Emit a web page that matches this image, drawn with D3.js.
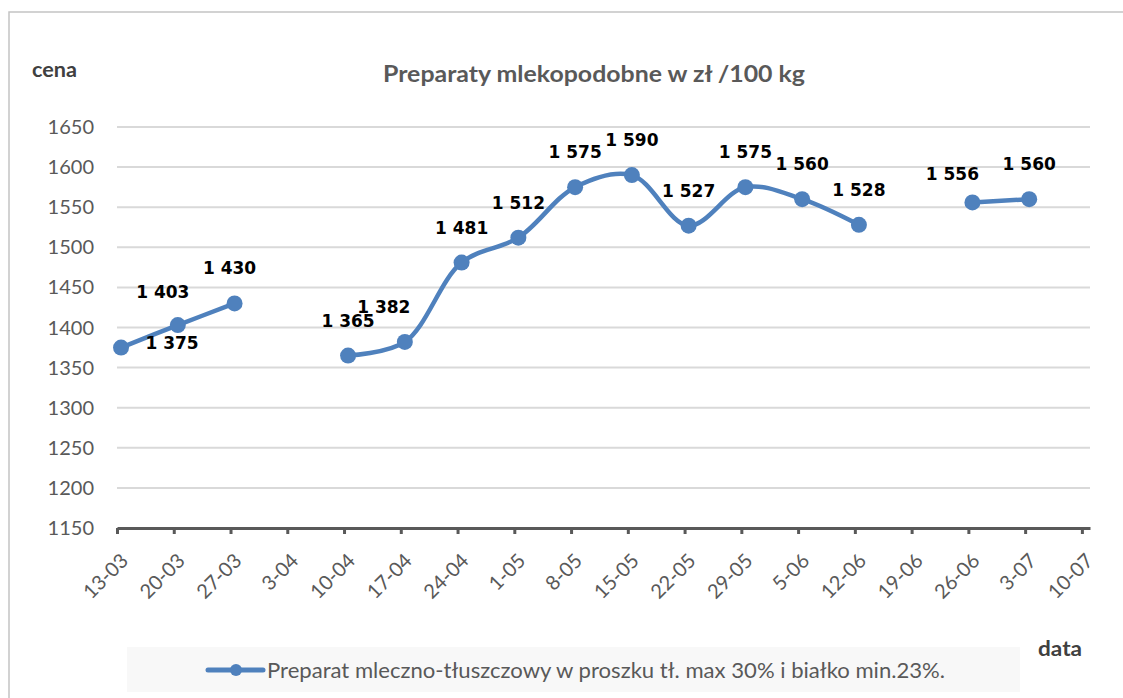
<!DOCTYPE html>
<html>
<head>
<meta charset="utf-8">
<script src="https://cdn.jsdelivr.net/npm/d3@7"></script>
<style>
  body { margin: 0; background: #fff; }
  text { font-family: Lato, "Open Sans", sans-serif; }
</style>
</head>
<body>
<script>
// weekly dates on the axis (dd-mm)
var dates = ["13-03", "20-03", "27-03", "3-04", "10-04", "17-04", "24-04", "1-05", "8-05",
  "15-05", "22-05", "29-05", "5-06", "12-06", "19-06", "26-06", "3-07", "10-07"]
// price zł / 100 kg, null = no quotation
var prices = [1375, 1403, 1430, null, 1365, 1382, 1481, 1512, 1575,
  1590, 1527, 1575, 1560, 1528, null, 1556, 1560, null]
var yTicks = [1150, 1200, 1250, 1300, 1350, 1400, 1450, 1500, 1550, 1600, 1650]

var seriesName = "Preparat mleczno-tłuszczowy w proszku tł. max 30% i białko min.23%."
var title = "Preparaty mlekopodobne w zł /100 kg"

// a few labels moved by hand (like in the original sheet)
var labelNudge = {0: [51, 30], 1: [-15, 2], 2: [-5, 0], 5: [-21, 0], 15: [-20, 7]}

var width = 1123, height = 698
var margin = {top: 127, right: 33, bottom: 170, left: 117}

var parse = function(s) { return d3.timeParse("%d-%m-%Y")(s + "-2023") }
var data = dates.map(function(d, i) { return {date: parse(d), value: prices[i], i: i} })

var x = d3.scaleTime()
  .domain([data[0].date, d3.timeDay.offset(data[data.length - 1].date, 1)])
  .range([margin.left, width - margin.right])

var y = d3.scaleLinear()
  .domain([1150, 1650])
  .range([height - margin.bottom, margin.top])

// excel puts the points half a day right of the tick
var px = function(d) { return x(d3.timeHour.offset(d.date, 12)) }

var svg = d3.select("body").append("svg")
  .attr("width", width)
  .attr("height", height)

// chart frame
svg.append("rect")
  .attr("x", 9).attr("y", 12)
  .attr("width", 1200).attr("height", 800)
  .attr("fill", "none")
  .attr("stroke", "#c4c4c4")
  .attr("stroke-width", 1.5)

// grid
svg.append("g")
  .selectAll("line")
  .data(yTicks.slice(1))
  .enter().append("line")
    .attr("x1", x.range()[0]).attr("x2", x.range()[1])
    .attr("y1", y).attr("y2", y)
    .attr("stroke", "#d9d9d9")
    .attr("stroke-width", 2)

// y labels
svg.append("g")
  .selectAll("text")
  .data(yTicks)
  .enter().append("text")
    .attr("x", 94)
    .attr("y", function(d) { return y(d) + 7 })
    .attr("text-anchor", "end")
    .attr("fill", "#595959")
    .style("font-size", "20px")
    .text(function(d) { return d })

// x axis
var xAxis = svg.append("g")
  .attr("transform", "translate(0," + y(1150) + ")")
  .call(d3.axisBottom(x)
    .tickValues(data.map(function(d) { return d.date }))
    .tickSize(6)
    .tickSizeOuter(0)
    .tickFormat(function(d, i) { return dates[i] }))

xAxis.select(".domain").attr("stroke", "#595959").attr("stroke-width", 3)
xAxis.selectAll(".tick line").attr("stroke", "#595959").attr("stroke-width", 3)
xAxis.selectAll(".tick text")
  .attr("fill", "#595959")
  .style("font-family", "Lato, 'Open Sans', sans-serif")
  .style("font-size", "20px")
  .attr("text-anchor", "end")
  .attr("dy", null)
  .attr("y", 0)
  .attr("transform", "translate(12,34) rotate(-45)")

// line
var line = d3.line()
  .defined(function(d) { return d.value != null })
  .x(px)
  .y(function(d) { return y(d.value) })
  .curve(d3.curveCatmullRom.alpha(0.5))

svg.append("path")
  .datum(data)
  .attr("d", line)
  .attr("fill", "none")
  .attr("stroke", "#4f81bd")
  .attr("stroke-width", 4.5)
  .attr("stroke-linejoin", "round")

var valid = data.filter(function(d) { return d.value != null })

svg.append("g")
  .selectAll("circle")
  .data(valid)
  .enter().append("circle")
    .attr("cx", px)
    .attr("cy", function(d) { return y(d.value) })
    .attr("r", 8)
    .attr("fill", "#4f81bd")

var fmt = function(v) { return d3.format(",")(v).replace(",", " ") }

svg.append("g")
  .selectAll("text")
  .data(valid)
  .enter().append("text")
    .attr("x", function(d) { return px(d) + (labelNudge[d.i] ? labelNudge[d.i][0] : 0) })
    .attr("y", function(d) { return y(d.value) - 29 + (labelNudge[d.i] ? labelNudge[d.i][1] : 0) })
    .attr("text-anchor", "middle")
    .style("font-family", "'DejaVu Sans', sans-serif")
    .style("font-weight", "bold")
    .style("font-size", "17px")
    .attr("fill", "#000")
    .text(function(d) { return fmt(d.value) })

// titles
svg.append("text")
  .attr("x", 594).attr("y", 82)
  .attr("text-anchor", "middle")
  .attr("fill", "#595959")
  .style("font-weight", "bold")
  .style("font-size", "23px")
  .attr("textLength", 422)
  .attr("lengthAdjust", "spacingAndGlyphs")
  .text(title)

svg.append("text")
  .attr("x", 32).attr("y", 77)
  .attr("fill", "#404040")
  .style("font-weight", "bold")
  .style("font-size", "20px")
  .attr("textLength", 45)
  .attr("lengthAdjust", "spacingAndGlyphs")
  .text("cena")

svg.append("text")
  .attr("x", 1038).attr("y", 656)
  .attr("fill", "#404040")
  .style("font-weight", "bold")
  .style("font-size", "20px")
  .attr("textLength", 44)
  .attr("lengthAdjust", "spacingAndGlyphs")
  .text("data")

// legend
var legend = svg.append("g")

legend.append("rect")
  .attr("x", 127).attr("y", 647)
  .attr("width", 893).attr("height", 45)
  .attr("fill", "#f8f8f8")

legend.append("line")
  .attr("x1", 208).attr("x2", 263)
  .attr("y1", 670).attr("y2", 670)
  .attr("stroke", "#4f81bd")
  .attr("stroke-width", 5)
  .attr("stroke-linecap", "round")

legend.append("circle")
  .attr("cx", 236).attr("cy", 670)
  .attr("r", 6)
  .attr("fill", "#4f81bd")

legend.append("text")
  .attr("x", 267).attr("y", 678)
  .attr("fill", "#595959")
  .style("font-size", "21px")
  .attr("textLength", 678)
  .attr("lengthAdjust", "spacingAndGlyphs")
  .text(seriesName)
</script>
</body>
</html>
